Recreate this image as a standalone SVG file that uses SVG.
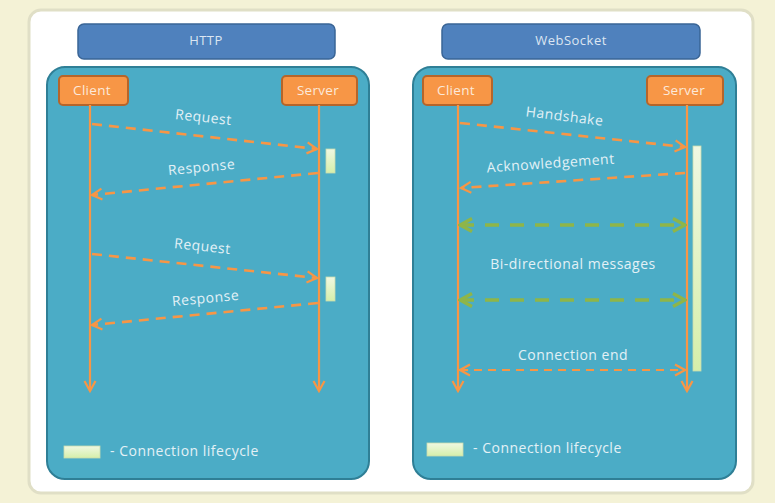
<svg xmlns="http://www.w3.org/2000/svg" width="775" height="503" viewBox="0 0 775 503">
<defs>
<style>
.hdr{fill:#4F81BD;stroke:#3A6596;stroke-width:1.5}
.panel{fill:#4BACC6;stroke:#2F7F96;stroke-width:2}
.actor{fill:#F79646;stroke:#B5652A;stroke-width:2}
.t{font-family:"Open Sans","Noto Sans",sans-serif;font-size:14px;fill:#E3F1F6;text-anchor:middle;letter-spacing:0.5px}
.a{font-family:"Open Sans","Noto Sans",sans-serif;font-size:13.5px;fill:#FCE9DA;text-anchor:middle;letter-spacing:0.3px}
.ht{font-family:"Open Sans","Noto Sans",sans-serif;font-size:13px;fill:#DCE6F2;text-anchor:middle;letter-spacing:0.5px}
.life{stroke:#F79646;stroke-width:2.2;fill:none}
.msg{stroke:#F79646;stroke-width:2.6;fill:none;stroke-dasharray:10 7}
.end{stroke:#F79646;stroke-width:2.2;fill:none;stroke-dasharray:8 6}
.bi{stroke:#8FB548;stroke-width:3.5;fill:none;stroke-dasharray:14 11}
.bar{fill:url(#g);stroke:#C8DDB0;stroke-width:0.8}
</style>
<linearGradient id="g" x1="0" y1="0" x2="0" y2="1"><stop offset="0" stop-color="#F0F8E2"/><stop offset="1" stop-color="#D6EFAA"/></linearGradient>
<marker id="ao" viewBox="0 0 14 14" refX="12" refY="7" markerWidth="14" markerHeight="14" markerUnits="userSpaceOnUse" orient="auto-start-reverse"><path d="M2,1.5 L12,7 L2,12.5" fill="none" stroke="#F79646" stroke-width="2.2"/></marker>
<marker id="ag" viewBox="0 0 16 16" refX="14" refY="8" markerWidth="16" markerHeight="16" markerUnits="userSpaceOnUse" orient="auto-start-reverse"><path d="M2,1.5 L14,8 L2,14.5" fill="none" stroke="#8FB548" stroke-width="3.2"/></marker>
</defs>
<rect width="775" height="503" fill="#F4F2D6"/>
<rect x="29" y="10" width="724" height="483" rx="12" fill="#FFFFFF" stroke="#E0DFC6" stroke-width="3"/>

<g id="http-header"><rect class="hdr" x="78" y="24" width="257" height="35" rx="6"/><text class="ht" x="206" y="45">HTTP</text></g>
<g id="ws-header"><rect class="hdr" x="442" y="24" width="258" height="35" rx="6"/><text class="ht" x="571" y="45">WebSocket</text></g>

<g id="http-panel"><rect class="panel" x="47" y="67" width="322" height="412" rx="18"/></g>
<g id="ws-panel"><rect class="panel" x="413" y="67" width="323" height="412" rx="18"/></g>

<g id="http-client"><rect class="actor" x="59" y="76" width="69" height="29" rx="4"/><text class="a" x="92" y="95">Client</text></g>
<g id="http-server"><rect class="actor" x="282" y="76" width="75" height="29" rx="4"/><text class="a" x="318" y="95">Server</text></g>
<g id="ws-client"><rect class="actor" x="423" y="76" width="69" height="29" rx="4"/><text class="a" x="456" y="95">Client</text></g>
<g id="ws-server"><rect class="actor" x="647" y="76" width="76" height="29" rx="4"/><text class="a" x="684" y="95">Server</text></g>

<g id="bars">
<rect class="bar" x="326" y="149" width="9" height="24"/>
<rect class="bar" x="326" y="277" width="9" height="24"/>
<rect class="bar" x="693" y="146" width="8" height="225"/>
</g>

<g id="connectors">
<line class="life" x1="90" y1="105" x2="90" y2="391" marker-end="url(#ao)"/>
<line class="life" x1="319" y1="105" x2="319" y2="391" marker-end="url(#ao)"/>
<line class="life" x1="458" y1="105" x2="458" y2="391" marker-end="url(#ao)"/>
<line class="life" x1="687" y1="105" x2="687" y2="391" marker-end="url(#ao)"/>

<line class="msg" x1="92" y1="124" x2="317" y2="149" marker-end="url(#ao)"/>
<line class="msg" x1="318" y1="173" x2="92" y2="195" marker-end="url(#ao)"/>
<line class="msg" x1="92" y1="254" x2="317" y2="278" marker-end="url(#ao)"/>
<line class="msg" x1="318" y1="303" x2="92" y2="325" marker-end="url(#ao)"/>

<line class="msg" x1="460" y1="123" x2="685" y2="147" marker-end="url(#ao)"/>
<line class="msg" x1="685" y1="173" x2="461" y2="188" marker-end="url(#ao)"/>
<line class="bi" x1="460" y1="225" x2="685" y2="225" marker-start="url(#ag)" marker-end="url(#ag)"/>
<line class="bi" x1="460" y1="300" x2="685" y2="300" marker-start="url(#ag)" marker-end="url(#ag)"/>
<line class="end" x1="460" y1="370" x2="685" y2="370" marker-start="url(#ao)" marker-end="url(#ao)"/>
</g>

<g id="labels">
<text class="t" transform="translate(203,122) rotate(6)">Request</text>
<text class="t" transform="translate(202,172) rotate(-5.5)">Response</text>
<text class="t" transform="translate(202,251) rotate(6)">Request</text>
<text class="t" transform="translate(206,303) rotate(-5.5)">Response</text>
<text class="t" transform="translate(564,121) rotate(7)">Handshake</text>
<text class="t" transform="translate(551,168) rotate(-4)">Acknowledgement</text>
<text class="t" x="573" y="269">Bi-directional messages</text>
<text class="t" x="573" y="360">Connection end</text>
</g>

<g id="legend-http"><rect class="bar" x="64" y="446" width="36" height="12"/><text class="t" x="110" y="456" style="text-anchor:start">- Connection lifecycle</text></g>
<g id="legend-ws"><rect class="bar" x="427" y="443" width="36" height="13"/><text class="t" x="473" y="453" style="text-anchor:start">- Connection lifecycle</text></g>
</svg>
